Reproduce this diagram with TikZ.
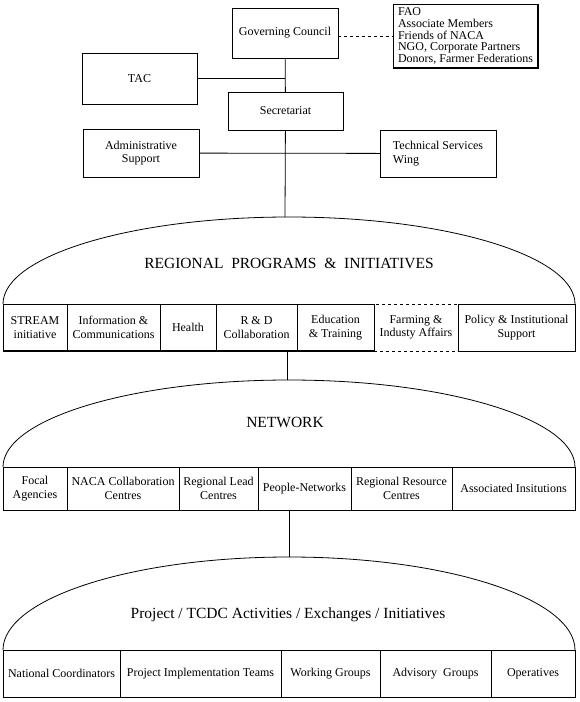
\documentclass[tikz,border=0pt]{standalone}
\usepackage{fontspec}
\setmainfont{Liberation Serif}
\usetikzlibrary{positioning}

\begin{document}
\begin{tikzpicture}[
  x=1pt, y=-1pt, line width=0.8pt,
  box/.style={draw, align=center, inner sep=2pt, outer sep=0pt,
    font=\fontsize{12}{13.5}\selectfont},
  members/.style={draw, align=left, inner sep=2pt, outer sep=0pt,
    font=\fontsize{12}{11.8}\selectfont},
  cell/.style={draw, align=center, inner sep=1pt, outer sep=0pt,
    font=\fontsize{12}{13.5}\selectfont},
  rowa/.style={cell, minimum height=47},
  rowb/.style={cell, minimum height=43},
  rowc/.style={cell, minimum height=47},
  title/.style={font=\fontsize{15.5}{18}\selectfont},
  dome/.style={line width=0.8pt}
]
\useasboundingbox (0,0) rectangle (579,702);

% governing bodies
\node[box, minimum width=106, minimum height=50] (gc) at (285,33) {Governing Council};
\node[members, minimum width=145, minimum height=64, anchor=north west] (fao) at (393,4)
  {FAO\\Associate Members\\Friends of NACA\\NGO, Corporate Partners\\Donors, Farmer Federations};
\draw[line width=1.8pt] (fao.north east) -- (fao.south east) -- (fao.south west);
\node[box, minimum width=115, minimum height=51] (tac) at (139.5,78.5) {TAC};
\node[box, minimum width=115, minimum height=38] (sec) at (285.5,111) {Secretariat};
\node[box, minimum width=116, minimum height=48] (adm) at (141,153) {Administrative\\Support};
\node[box, align=left, minimum width=116, minimum height=47] (tech) at (438,153.5) {Technical Services\\ Wing};

\draw[dashed] (gc.east |- fao.west) -- (fao.west);
\draw (gc) -- (sec);
\draw (tac.east) -- (tac.east -| gc.south);
\draw (adm) -- (tech);
\coordinate (regtop) at (285,217);
\draw (sec) -- (regtop);

% regional programs
\node[rowa, minimum width=64, anchor=north west] (stream) at (3,304) {STREAM\\initiative};
\node[rowa, minimum width=93, right=0pt of stream] (info) {Information \&\\Communications};
\node[rowa, minimum width=56, right=0pt of info] (health) {Health};
\node[rowa, minimum width=81, right=0pt of health] (rnd) {R \& D\\Collaboration};
\node[rowa, minimum width=77, right=0pt of rnd] (edu) {Education\\\& Training};
\node[rowa, dashed, minimum width=84, right=0pt of edu] (farm) {Farming \&\\Industy Affairs};
\node[rowa, minimum width=117, right=0pt of farm] (policy) {Policy \& Institutional\\Support};
\draw[line width=1.4pt] (stream.south west) -- (edu.south east);
\draw[dome] (stream.north west) arc[start angle=180, end angle=0, x radius=286pt, y radius=87pt];
\node[title] (regtitle) at (289,263) {REGIONAL\ \ PROGRAMS\ \ \&\ \ INITIATIVES};

\coordinate (nettop) at (287,380);
\draw (nettop |- rnd.south) -- (nettop);

% network
\node[rowb, minimum width=64, anchor=north west] (focal) at (3,467) {Focal\\Agencies};
\node[rowb, minimum width=112, right=0pt of focal] (naca) {NACA Collaboration\\Centres};
\node[rowb, minimum width=79, right=0pt of naca] (lead) {Regional Lead\\Centres};
\node[rowb, minimum width=93, right=0pt of lead] (people) {People-Networks};
\node[rowb, minimum width=101, right=0pt of people] (resource) {Regional Resource\\Centres};
\node[rowb, minimum width=123, right=0pt of resource] (assoc) {Associated Insitutions};
\draw[dome] (focal.north west) arc[start angle=180, end angle=0, x radius=286pt, y radius=87pt];
\node[title] (nettitle) at (285,422) {NETWORK};

\coordinate (projtop) at (289,557);
\draw (projtop |- people.south) -- (projtop);

% activities
\node[rowc, minimum width=117, anchor=north west] (natco) at (3,650) {National Coordinators};
\node[rowc, minimum width=161, right=0pt of natco] (impl) {Project Implementation Teams};
\node[rowc, minimum width=99, right=0pt of impl] (working) {Working Groups};
\node[rowc, minimum width=111, right=0pt of working] (advisory) {Advisory\ \ Groups};
\node[rowc, minimum width=84, right=0pt of advisory] (oper) {Operatives};
\draw[dome] (natco.north west) arc[start angle=180, end angle=0, x radius=286pt, y radius=93pt];
\node[title] (projtitle) at (288,615) {Project / TCDC Activities / Exchanges / Initiatives};
\end{tikzpicture}
\end{document}
